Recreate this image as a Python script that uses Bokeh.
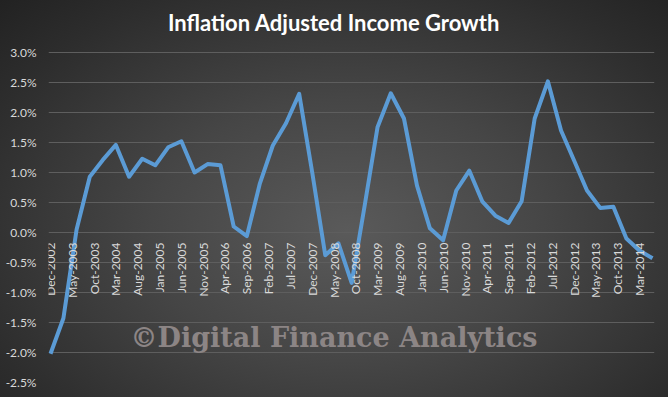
import numpy as np
import pandas as pd
from bokeh.plotting import figure
from bokeh.models import (ColumnDataSource, FixedTicker, NumeralTickFormatter,
                          DatetimeTickFormatter, Range1d, Label)
from bokeh.embed import file_html
from bokeh.resources import INLINE

# ---------------- data ----------------
quarters = ["Dec-2002", "Mar-2003", "Jun-2003", "Sep-2003", "Dec-2003", "Mar-2004",
            "Jun-2004", "Sep-2004", "Dec-2004", "Mar-2005", "Jun-2005", "Sep-2005",
            "Dec-2005", "Mar-2006", "Jun-2006", "Sep-2006", "Dec-2006", "Mar-2007",
            "Jun-2007", "Sep-2007", "Dec-2007", "Mar-2008", "Jun-2008", "Sep-2008",
            "Dec-2008", "Mar-2009", "Jun-2009", "Sep-2009", "Dec-2009", "Mar-2010",
            "Jun-2010", "Sep-2010", "Dec-2010", "Mar-2011", "Jun-2011", "Sep-2011",
            "Dec-2011", "Mar-2012", "Jun-2012", "Sep-2012", "Dec-2012", "Mar-2013",
            "Jun-2013", "Sep-2013", "Dec-2013", "Mar-2014", "Jun-2014"]
growth_pct = [-2.02, -1.43, 0.05, 0.93, 1.21, 1.46,
              0.93, 1.23, 1.12, 1.42, 1.52, 1.00,
              1.14, 1.12, 0.10, -0.06, 0.82, 1.45,
              1.82, 2.31, 1.00, -0.38, -0.18, -0.84,
              0.45, 1.76, 2.32, 1.90, 0.78, 0.07,
              -0.13, 0.70, 1.03, 0.52, 0.28, 0.16,
              0.52, 1.90, 2.52, 1.70, 1.20, 0.70,
              0.41, 0.43, -0.10, -0.30, -0.43]
tick_labels = ["Dec-2002", "May-2003", "Oct-2003", "Mar-2004", "Aug-2004", "Jan-2005",
               "Jun-2005", "Nov-2005", "Apr-2006", "Sep-2006", "Feb-2007", "Jul-2007",
               "Dec-2007", "May-2008", "Oct-2008", "Mar-2009", "Aug-2009", "Jan-2010",
               "Jun-2010", "Nov-2010", "Apr-2011", "Sep-2011", "Feb-2012", "Jul-2012",
               "Dec-2012", "May-2013", "Oct-2013", "Mar-2014"]
y_ticks_pct = [-2.5, -2.0, -1.5, -1.0, -0.5, 0.0, 0.5, 1.0, 1.5, 2.0, 2.5, 3.0]

title_text = "Inflation Adjusted Income Growth"
watermark_text = "\u00a9Digital Finance Analytics"

# ---------------- prep ----------------
dates = pd.to_datetime(quarters, format="%b-%Y")
vals = np.array(growth_pct) / 100.0
tick_ms = [d.timestamp() * 1000.0 for d in pd.to_datetime(tick_labels, format="%b-%Y")]
x_start = dates[0] - pd.Timedelta(days=14)
x_end = dates[-1] + pd.Timedelta(days=14)
center_ms = pd.Timestamp("2008-05-01").timestamp() * 1000.0

source = ColumnDataSource(dict(x=dates, y=vals))

# the frame reaches the top of the canvas so the title can sit inside it
p = figure(width=668, height=397, x_axis_type="datetime",
           x_range=Range1d(x_start, x_end), y_range=Range1d(-0.025, 0.038667),
           output_backend="svg", toolbar_location=None,
           min_border_left=48, min_border_right=14, min_border_top=0,
           min_border_bottom=15)

p.background_fill_alpha = 0
p.border_fill_alpha = 0
p.outline_line_color = None
p.styles = {"background": "radial-gradient(ellipse farthest-corner at 52% 58%, "
                          "#5a5a5a 0%, #464646 40%, #2d2d2d 80%, #222222 100%)"}

label_color = "#d9d9d9"

# x axis at zero
xa = p.xaxis[0]
xa.fixed_location = 0
xa.ticker = FixedTicker(ticks=tick_ms)
fmt = "%b-%Y"
xa.formatter = DatetimeTickFormatter(microseconds=fmt, milliseconds=fmt, seconds=fmt,
                                     minsec=fmt, minutes=fmt, hourmin=fmt, hours=fmt,
                                     days=fmt, months=fmt, years=fmt)
xa.major_label_orientation = np.pi / 2
xa.axis_line_color = None
xa.major_tick_line_color = None
xa.minor_tick_line_color = None
xa.major_label_standoff = 4
xa.major_label_text_color = label_color
xa.major_label_text_font = "Lato"
xa.major_label_text_font_size = "12px"

# y axis
ya = p.yaxis[0]
ya.ticker = FixedTicker(ticks=[v / 100.0 for v in y_ticks_pct])
ya.formatter = NumeralTickFormatter(format="0.0%")
ya.axis_line_color = None
ya.major_tick_line_color = None
ya.major_tick_out = 0
ya.minor_tick_line_color = None
ya.minor_tick_out = 0
ya.major_label_standoff = 12
ya.major_label_text_color = label_color
ya.major_label_text_font = "Lato"
ya.major_label_text_font_size = "12px"

p.xgrid.visible = False
p.ygrid.grid_line_color = "#5e5e5e"
p.ygrid.grid_line_width = 1

# title
title = Label(x=center_ms, y=0.035, text=title_text, text_align="center",
              text_baseline="middle", text_font="Lato", text_font_style="bold",
              text_font_size="22px", text_color="white")
p.add_layout(title)

# watermark
wm = Label(x=center_ms, y=-0.0175,
           text=watermark_text, text_align="center", text_baseline="middle",
           text_font="DejaVu Serif", text_font_style="bold", text_font_size="27px",
           text_color="#8c8585")
p.add_layout(wm)

p.line("x", "y", source=source, line_color="#5b9bd5", line_width=4,
       line_join="round")

open("out.html", "w").write(file_html(p, INLINE))
